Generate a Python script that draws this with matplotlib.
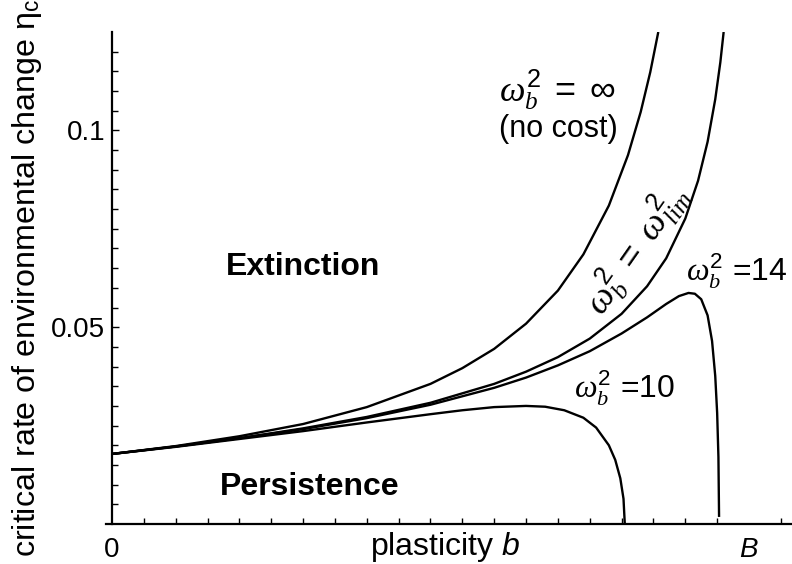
import numpy as np
import matplotlib
matplotlib.use('Agg')
import matplotlib.pyplot as plt

plt.rcParams['font.family'] = ['Liberation Sans', 'DejaVu Sans']
plt.rcParams['mathtext.fontset'] = 'custom'
plt.rcParams['mathtext.rm'] = 'Liberation Sans'
plt.rcParams['mathtext.it'] = 'Liberation Serif:italic'
plt.rcParams['mathtext.sf'] = 'Liberation Sans:italic'

# critical rate curves (b in units of B)
b_inf = [0, 0.1, 0.2, 0.3, 0.4, 0.5, 0.55, 0.6, 0.65, 0.7, 0.74, 0.78, 0.81, 0.83, 0.845, 0.8576]
eta_inf = [0.0178, 0.0198, 0.0223, 0.0254, 0.0297, 0.0356, 0.0396, 0.0445, 0.0509, 0.0593,
           0.0685, 0.0809, 0.0937, 0.1047, 0.1148, 0.1250]

b_lim = [0, 0.1, 0.2, 0.3, 0.4, 0.5, 0.6, 0.65, 0.7, 0.75, 0.8, 0.84, 0.87, 0.9, 0.92,
         0.935, 0.947, 0.955, 0.9602]
eta_lim = [0.0178, 0.0197, 0.0218, 0.0243, 0.0272, 0.0308, 0.0356, 0.0387, 0.0424, 0.0471,
           0.0534, 0.0604, 0.0675, 0.0776, 0.0872, 0.0971, 0.1079, 0.1173, 0.1250]

b_14 = [0, 0.1, 0.2, 0.3, 0.4, 0.5, 0.6, 0.65, 0.7, 0.75, 0.8, 0.84, 0.87, 0.89, 0.905,
        0.915, 0.925, 0.935, 0.942, 0.947, 0.95, 0.952, 0.953]
eta_14 = [0.0178, 0.0197, 0.0218, 0.0241, 0.0269, 0.0303, 0.0346, 0.0372, 0.0403, 0.0439,
          0.0484, 0.0525, 0.0559, 0.0579, 0.0587, 0.0585, 0.0571, 0.0530, 0.0465, 0.0376,
          0.0282, 0.0170, 0.0018]

b_10 = [0, 0.1, 0.2, 0.3, 0.4, 0.5, 0.55, 0.6, 0.65, 0.68, 0.71, 0.74, 0.76, 0.78, 0.79,
        0.798, 0.803, 0.805]
eta_10 = [0.0178, 0.0196, 0.0216, 0.0236, 0.0258, 0.0279, 0.0289, 0.0297, 0.0300, 0.0298,
          0.0289, 0.0270, 0.0245, 0.0200, 0.0163, 0.0116, 0.0064, 0.0]

fig = plt.figure(figsize=(7.92, 5.64), dpi=100)
ax = fig.add_axes([0.1414, 0.0709, 0.8586, 0.8724])

for bb, ee in [(b_inf, eta_inf), (b_lim, eta_lim), (b_14, eta_14), (b_10, eta_10)]:
    ax.plot(bb, ee, color='black', lw=1.7, solid_capstyle='butt')

ax.set_xlim(0, 1.0675)
ax.set_ylim(0, 0.125)

for s in ['top', 'right']:
    ax.spines[s].set_visible(False)
ax.spines['left'].set_linewidth(1.6)
ax.spines['bottom'].set_linewidth(1.6)
ax.spines['bottom'].set_bounds(-0.01, 1.0675)

ax.set_xticks([0, 1])
ax.set_xticklabels(['0', r'$\mathsf{B}$'])
ax.set_xticks(np.arange(0.05, 1.06, 0.05), minor=True)
ax.set_yticks([0.05, 0.1])
ax.set_yticklabels(['0.05', '0.1'])
ax.set_yticks(np.arange(0.005, 0.125, 0.005), minor=True)
ax.tick_params(which='both', direction='in', width=1, labelsize=20)
ax.tick_params(which='major', length=5)
ax.tick_params(which='minor', length=4)
ax.tick_params(axis='x', which='major', length=0, pad=9)
ax.tick_params(axis='y', which='major', pad=5)

ax.set_xlabel(r'plasticity $\mathsf{b}$', fontsize=23)
ax.set_ylabel(r'critical rate of environmental change η$_\mathrm{c}$', fontsize=23.2)
ax.xaxis.set_label_coords(0.49, -0.012)
ax.yaxis.set_label_coords(-0.1, 0.50)

ax.text(0.30, 0.0652, 'Extinction', fontsize=23, fontweight='bold', ha='center', va='center')
ax.text(0.31, 0.0095, 'Persistence', fontsize=23, fontweight='bold', ha='center', va='center')

ax.text(0.70, 0.1105, r'$\omega_b^2\ =\ \infty$', fontsize=26, ha='center', va='center')
ax.text(0.70, 0.1003, '(no cost)', fontsize=22, ha='center', va='center')
ax.text(0.822, 0.0700, r'$\omega_b^2\ =\ \omega_{lim}^2$', fontsize=26, ha='center', va='center',
        rotation=55)
ax.text(0.981, 0.0641, r'$\omega_b^2$ =14', fontsize=23, ha='center', va='center')
ax.text(0.804, 0.0345, r'$\omega_b^2$ =10', fontsize=23, ha='center', va='center')

fig.savefig('out.png', dpi=100)
